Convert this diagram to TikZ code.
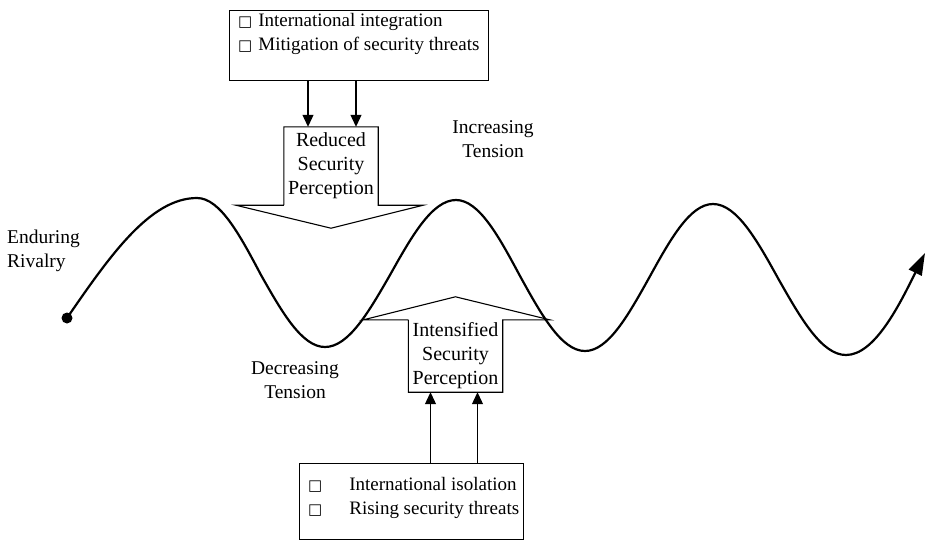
\documentclass[tikz,border=0pt]{standalone}
\usepackage{fontspec}
\setmainfont{Liberation Serif}
\newfontfamily\symfont{DejaVu Sans}
\usetikzlibrary{positioning, arrows.meta}

\newcommand{\bul}{{\symfont\fontsize{15}{15}\selectfont □}}

\tikzset{
  listbox/.style={draw, line width=1.1pt, minimum width=259pt, minimum height=70pt, inner sep=0pt},
  listtext/.style={align=left, inner sep=0pt, font=\fontsize{19}{24}\selectfont},
  bodybox/.style={minimum width=94pt, inner sep=0pt, align=center,
    font=\fontsize{20}{24}\selectfont},
  tag/.style={inner sep=0pt, align=center, font=\fontsize{19.5}{24}\selectfont},
  feed/.style={line width=1.1pt, -{Triangle[length=12pt, width=11pt]}},
  wave/.style={line width=2.2pt, -{Triangle[length=22pt, width=14pt]}}
}

\begin{document}
\begin{tikzpicture}[x=1pt, y=-1pt]
\useasboundingbox (0,0) rectangle (927,539);

% boxes with the two causes
\node[listbox, anchor=north west] (topbox) at (229,10) {};
\node[listtext, anchor=north west] (toptext) at (238,13)
  {\bul\hspace{6pt}International integration\\ \bul\hspace{6pt}Mitigation of security threats};
\node[listbox, anchor=north west, minimum width=224pt, minimum height=76pt] (botbox) at (299,463) {};
\node[listtext, anchor=north west] (bottext) at (308,477)
  {\bul\hspace{27pt}International isolation\\ \bul\hspace{27pt}Rising security threats};

% the two block arrows
\node[bodybox, minimum height=78pt] (reduced) at (331,166) {Reduced\\Security\\Perception};
\coordinate[below=23pt of reduced.south] (reducedtip);
\draw[line width=1.1pt] (reduced.south west) -- (reduced.north west) -- (reduced.north east)
  -- (reduced.south east) -- ++(45,0) -- (reducedtip) -- ([xshift=-48pt]reduced.south west)
  -- (reduced.south west);

\node[bodybox, minimum height=72pt] (intensified) at (455.5,356) {Intensified\\Security\\Perception};
\coordinate[above=23pt of intensified.north] (intensifiedtip);
\draw[line width=1.1pt] (intensified.north west) -- (intensified.south west) -- (intensified.south east)
  -- (intensified.north east) -- ++(47,0) -- (intensifiedtip) -- ([xshift=-45pt]intensified.north west)
  -- (intensified.north west);

\draw[feed] ([xshift=-23pt]topbox.south -| reduced.north) -- ([xshift=-23pt]reduced.north);
\draw[feed] ([xshift=25pt]topbox.south -| reduced.north) -- ([xshift=25pt]reduced.north);
\draw[feed] ([xshift=-25pt]botbox.north -| intensified.south) -- ([xshift=-25pt]intensified.south);
\draw[feed] ([xshift=22pt]botbox.north -| intensified.south) -- ([xshift=22pt]intensified.south);

% the rivalry wave
\fill (67,318) circle (5.5pt) coordinate (start);
\draw[wave] (start) sin (197,198) cos (261,275) sin (325,347) cos (390,275)
  sin (456,200) cos (520,276) sin (585,351) cos (649,278) sin (713,204)
  cos (779,280) sin (846,355) cos (925,253);

% labels
\node[tag, align=left, anchor=north west] (rivalry) at (7,230) {Enduring\\Rivalry};
\node[tag] (increasing) at (493,139) {Increasing\\Tension};
\node[tag] (decreasing) at (295,380) {Decreasing\\Tension};
\end{tikzpicture}
\end{document}
